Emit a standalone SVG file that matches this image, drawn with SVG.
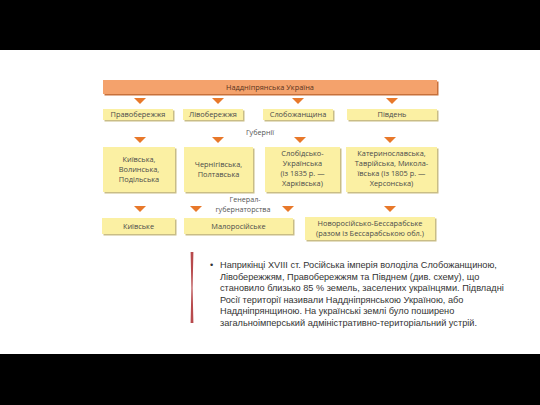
<svg xmlns="http://www.w3.org/2000/svg" width="540" height="405" viewBox="0 0 540 405">
<style>
.bx{fill:#fbf0a3;}
.sh{fill:#c9bd86;}
.tri{fill:#e8782a;}
.t{font-family:"Open Sans","Liberation Sans",sans-serif;font-size:7.4px;fill:#4a4a4a;text-anchor:middle;}
.lbl{font-family:"Open Sans","Liberation Sans",sans-serif;font-size:7.2px;fill:#555;text-anchor:middle;}
.body{font-family:"Liberation Sans",Arial,sans-serif;font-size:9.2px;fill:#333;}
</style>
<rect x="0" y="0" width="540" height="405" fill="#fff"/>
<rect x="0" y="0" width="540" height="50" fill="#000"/>
<rect x="0" y="354" width="540" height="51" fill="#000"/>

<g id="header">
<rect x="104.5" y="81.5" width="334" height="14" fill="#c7703a"/>
<rect x="103" y="80" width="334" height="14" fill="#f4a26c"/>
<text class="t" x="270" y="89.8" style="fill:#5a3320">Наддніпрянська Україна</text>
</g>

<g id="connectors">
<polygon class="tri" points="134,98 146,98 140,104"/>
<polygon class="tri" points="212,98 224,98 218,104"/>
<polygon class="tri" points="292,98 304,98 298,104"/>
<polygon class="tri" points="386,98 398,98 392,104"/>
<polygon class="tri" points="134,137 146,137 140,143"/>
<polygon class="tri" points="212,137 224,137 218,143"/>
<polygon class="tri" points="294,137 306,137 300,143"/>
<polygon class="tri" points="384,137 396,137 390,143"/>
<polygon class="tri" points="134,206 146,206 140,212"/>
<polygon class="tri" points="190,206 202,206 196,212"/>
<polygon class="tri" points="282,206 294,206 288,212"/>
<polygon class="tri" points="384,206 396,206 390,212"/>
</g>

<g id="n-pravoberezhzhia">
<rect class="sh" x="104.5" y="110.5" width="70" height="11"/>
<rect class="bx" x="103" y="109" width="70" height="11"/>
<text class="t" x="138" y="117.2">Правобережжя</text>
</g>
<g id="n-livoberezhzhia">
<rect class="sh" x="184.5" y="110.5" width="60" height="11"/>
<rect class="bx" x="183" y="109" width="60" height="11"/>
<text class="t" x="213" y="117.2">Лівобережжя</text>
</g>
<g id="n-slobozhanshchyna">
<rect class="sh" x="264.5" y="110.5" width="70" height="11"/>
<rect class="bx" x="263" y="109" width="70" height="11"/>
<text class="t" x="298" y="117.2">Слобожанщина</text>
</g>
<g id="n-pivden">
<rect class="sh" x="348.5" y="110.5" width="90" height="11"/>
<rect class="bx" x="347" y="109" width="90" height="11"/>
<text class="t" x="392" y="117.2">Південь</text>
</g>

<text class="lbl" x="260" y="135">Губернії</text>

<g id="n-kyivska-gub">
<rect class="sh" x="104.5" y="148.5" width="72" height="45"/>
<rect class="bx" x="103" y="147" width="72" height="45"/>
<text class="t" x="139" y="162">Київська,</text>
<text class="t" x="139" y="172">Волинська,</text>
<text class="t" x="139" y="182">Подільська</text>
</g>
<g id="n-chernihivska">
<rect class="sh" x="185.5" y="148.5" width="69" height="45"/>
<rect class="bx" x="184" y="147" width="69" height="45"/>
<text class="t" x="218.5" y="167">Чернігівська,</text>
<text class="t" x="218.5" y="177">Полтавська</text>
</g>
<g id="n-slobidsko">
<rect class="sh" x="266.5" y="148.5" width="75" height="45"/>
<rect class="bx" x="265" y="147" width="75" height="45"/>
<text class="t" x="302.5" y="156">Слобідсько-</text>
<text class="t" x="302.5" y="166">Українська</text>
<text class="t" x="302.5" y="176">(із 1835 р. —</text>
<text class="t" x="302.5" y="186">Харківська)</text>
</g>
<g id="n-katerynoslavska">
<rect class="sh" x="347.5" y="148.5" width="91" height="45"/>
<rect class="bx" x="346" y="147" width="91" height="45"/>
<text class="t" x="391.5" y="156">Катеринославська,</text>
<text class="t" x="391.5" y="166">Таврійська, Микола-</text>
<text class="t" x="391.5" y="176">ївська (із 1805 р. —</text>
<text class="t" x="391.5" y="186">Херсонська)</text>
</g>

<text class="lbl" x="245" y="202">Генерал-</text>
<text class="lbl" x="243" y="212">губернаторства</text>

<g id="n-kyivske">
<rect class="sh" x="103.5" y="219.5" width="73" height="16"/>
<rect class="bx" x="102" y="218" width="73" height="16"/>
<text class="t" x="138.5" y="228.5">Київське</text>
</g>
<g id="n-malorosiiske">
<rect class="sh" x="185.5" y="219.5" width="109" height="16"/>
<rect class="bx" x="184" y="218" width="109" height="16"/>
<text class="t" x="238.5" y="228.5">Малоросійське</text>
</g>
<g id="n-novorosiisko">
<rect class="sh" x="306.5" y="218.5" width="130" height="23"/>
<rect class="bx" x="305" y="217" width="130" height="23"/>
<text class="t" x="370" y="226">Новоросійсько-Бессарабське</text>
<text class="t" x="370" y="236">(разом із Бессарабською обл.)</text>
</g>

<path d="M190.6,252 L193.4,252 L192.6,288 L193.4,323 L190.6,323 L191.4,288 Z" fill="#b84a4d"/>

<g class="body">
<text x="210" y="268">•</text>
<text x="220" y="268">Наприкінці XVIII ст. Російська імперія володіла Слобожанщиною,</text>
<text x="220" y="279.5">Лівобережжям, Правобережжям та Півднем (див. схему), що</text>
<text x="220" y="291">становило близько 85 % земель, заселених українцями. Підвладні</text>
<text x="220" y="302.5">Росії території називали Наддніпрянською Україною, або</text>
<text x="220" y="314">Наддніпрянщиною. На українські землі було поширено</text>
<text x="220" y="325.5">загальноімперський адміністративно-територіальний устрій.</text>
</g>
</svg>
